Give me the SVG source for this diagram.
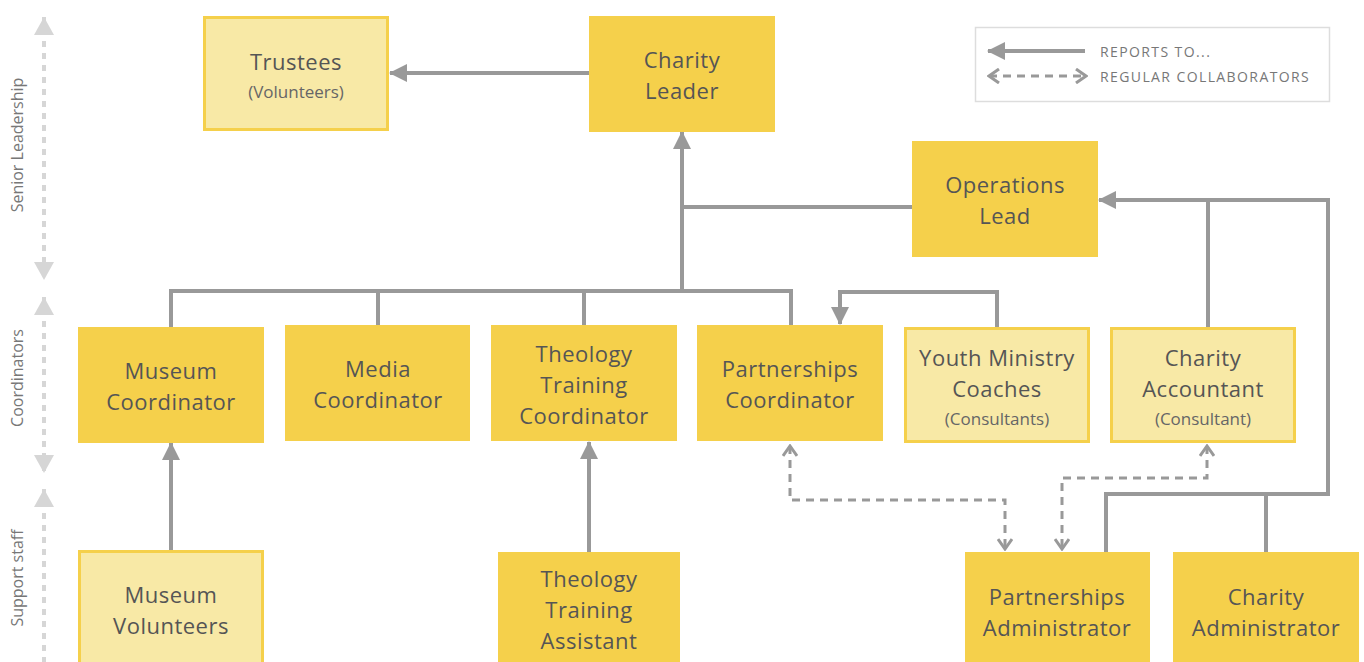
<svg xmlns="http://www.w3.org/2000/svg" width="1364" height="662" viewBox="0 0 1364 662">
<style>
.dark{fill:#f5d04b;}
.light{fill:#f8e9a6;stroke:#f5d04b;stroke-width:3;}
.t{font-family:"Open Sans","Liberation Sans",sans-serif;font-size:22px;fill:#555;text-anchor:middle;letter-spacing:0.5px;}
.s{font-family:"Open Sans","Liberation Sans",sans-serif;font-size:17px;fill:#666;text-anchor:middle;}
.ln{fill:none;stroke:#999;stroke-width:4;}
.dl{fill:none;stroke:#999;stroke-width:3;stroke-dasharray:8 6;}
.ax{fill:none;stroke:#d6d6d6;stroke-width:4;stroke-dasharray:6 6;}
.axt{font-family:"Open Sans","Liberation Sans",sans-serif;font-size:16px;fill:#777;text-anchor:middle;}
.lg{font-family:"Open Sans","Liberation Sans",sans-serif;font-size:14px;fill:#777;letter-spacing:1.4px;}
</style>
<defs>
<marker id="ah" viewBox="0 0 18 18" refX="17" refY="9" markerWidth="18" markerHeight="18" markerUnits="userSpaceOnUse" orient="auto"><path d="M0,0 L18,9 L0,18 Z" fill="#999"/></marker>
<marker id="oh" viewBox="0 0 14 16" refX="12" refY="8" markerWidth="14" markerHeight="16" markerUnits="userSpaceOnUse" orient="auto-start-reverse"><path d="M2,1 L12,8 L2,15" fill="none" stroke="#999" stroke-width="3"/></marker>
<marker id="axh" viewBox="0 0 20 20" refX="18" refY="10" markerWidth="20" markerHeight="20" markerUnits="userSpaceOnUse" orient="auto-start-reverse"><path d="M0,0 L18,10 L0,20 Z" fill="#d6d6d6"/></marker>
</defs>

<g id="axis">
<line class="ax" x1="44" y1="17" x2="44" y2="280" marker-start="url(#axh)" marker-end="url(#axh)"/>
<line class="ax" x1="44" y1="297" x2="44" y2="473" marker-start="url(#axh)" marker-end="url(#axh)"/>
<line class="ax" x1="44" y1="489" x2="44" y2="680" marker-start="url(#axh)" marker-end="url(#axh)"/>
<text class="axt" transform="translate(23,145) rotate(-90)">Senior Leadership</text>
<text class="axt" transform="translate(23,378) rotate(-90)">Coordinators</text>
<text class="axt" transform="translate(23,578) rotate(-90)">Support staff</text>
</g>

<g id="legend">
<rect x="975.5" y="27.5" width="354" height="74" fill="#fff" stroke="#ddd" stroke-width="1.5"/>
<line class="ln" x1="1085" y1="51" x2="988" y2="51" marker-end="url(#ah)"/>
<line class="dl" x1="989" y1="76" x2="1086" y2="76" marker-start="url(#oh)" marker-end="url(#oh)"/>
<text class="lg" x="1100" y="57">REPORTS TO...</text>
<text class="lg" x="1100" y="82">REGULAR COLLABORATORS</text>
</g>

<g id="connectors">
<line class="ln" x1="589" y1="73" x2="390" y2="73" marker-end="url(#ah)"/>
<line class="ln" x1="682" y1="293" x2="682" y2="132" marker-end="url(#ah)"/>
<line class="ln" x1="912" y1="207" x2="682" y2="207"/>
<path class="ln" d="M171,327 V291 H791 V325"/>
<line class="ln" x1="378" y1="291" x2="378" y2="325"/>
<line class="ln" x1="584" y1="291" x2="584" y2="325"/>
<path class="ln" d="M997,327 V292 H840 V324" marker-end="url(#ah)"/>
<path class="ln" d="M1328,200 H1099" marker-end="url(#ah)"/>
<line class="ln" x1="1208" y1="327" x2="1208" y2="200"/>
<path class="ln" d="M1106,552 V494 H1328 V198"/>
<line class="ln" x1="1266" y1="552" x2="1266" y2="494"/>
<line class="ln" x1="171" y1="550" x2="171" y2="443" marker-end="url(#ah)"/>
<line class="ln" x1="589" y1="552" x2="589" y2="442" marker-end="url(#ah)"/>
<path class="dl" d="M790,446 V500 H1005 V549" marker-start="url(#oh)" marker-end="url(#oh)"/>
<path class="dl" d="M1207,446 V478 H1062 V549" marker-start="url(#oh)" marker-end="url(#oh)"/>
</g>

<g id="trustees"><rect class="light" x="204.5" y="17.5" width="183" height="112"/><text class="t" x="296" y="70">Trustees</text><text class="s" x="296" y="98">(Volunteers)</text></g>
<g id="charity-leader"><rect class="dark" x="589" y="16" width="186" height="116"/><text class="t" x="682" y="68">Charity</text><text class="t" x="682" y="99">Leader</text></g>
<g id="operations-lead"><rect class="dark" x="912" y="141" width="186" height="116"/><text class="t" x="1005" y="193">Operations</text><text class="t" x="1005" y="224">Lead</text></g>
<g id="museum-coordinator"><rect class="dark" x="78" y="327" width="186" height="116"/><text class="t" x="171" y="379">Museum</text><text class="t" x="171" y="410">Coordinator</text></g>
<g id="media-coordinator"><rect class="dark" x="285" y="325" width="185" height="116"/><text class="t" x="378" y="377">Media</text><text class="t" x="378" y="408">Coordinator</text></g>
<g id="theology-training-coordinator"><rect class="dark" x="491" y="325" width="186" height="116"/><text class="t" x="584" y="362">Theology</text><text class="t" x="584" y="393">Training</text><text class="t" x="584" y="424">Coordinator</text></g>
<g id="partnerships-coordinator"><rect class="dark" x="697" y="325" width="186" height="116"/><text class="t" x="790" y="377">Partnerships</text><text class="t" x="790" y="408">Coordinator</text></g>
<g id="youth-ministry-coaches"><rect class="light" x="905.5" y="328.5" width="183" height="113"/><text class="t" x="997" y="366">Youth Ministry</text><text class="t" x="997" y="397">Coaches</text><text class="s" x="997" y="425">(Consultants)</text></g>
<g id="charity-accountant"><rect class="light" x="1111.5" y="328.5" width="183" height="113"/><text class="t" x="1203" y="366">Charity</text><text class="t" x="1203" y="397">Accountant</text><text class="s" x="1203" y="425">(Consultant)</text></g>
<g id="museum-volunteers"><rect class="light" x="79.5" y="551.5" width="183" height="115"/><text class="t" x="171" y="603">Museum</text><text class="t" x="171" y="634">Volunteers</text></g>
<g id="theology-training-assistant"><rect class="dark" x="498" y="552" width="182" height="116"/><text class="t" x="589" y="587">Theology</text><text class="t" x="589" y="618">Training</text><text class="t" x="589" y="649">Assistant</text></g>
<g id="partnerships-administrator"><rect class="dark" x="965" y="552" width="185" height="116"/><text class="t" x="1057" y="605">Partnerships</text><text class="t" x="1057" y="636">Administrator</text></g>
<g id="charity-administrator"><rect class="dark" x="1173" y="552" width="186" height="116"/><text class="t" x="1266" y="605">Charity</text><text class="t" x="1266" y="636">Administrator</text></g>
</svg>
